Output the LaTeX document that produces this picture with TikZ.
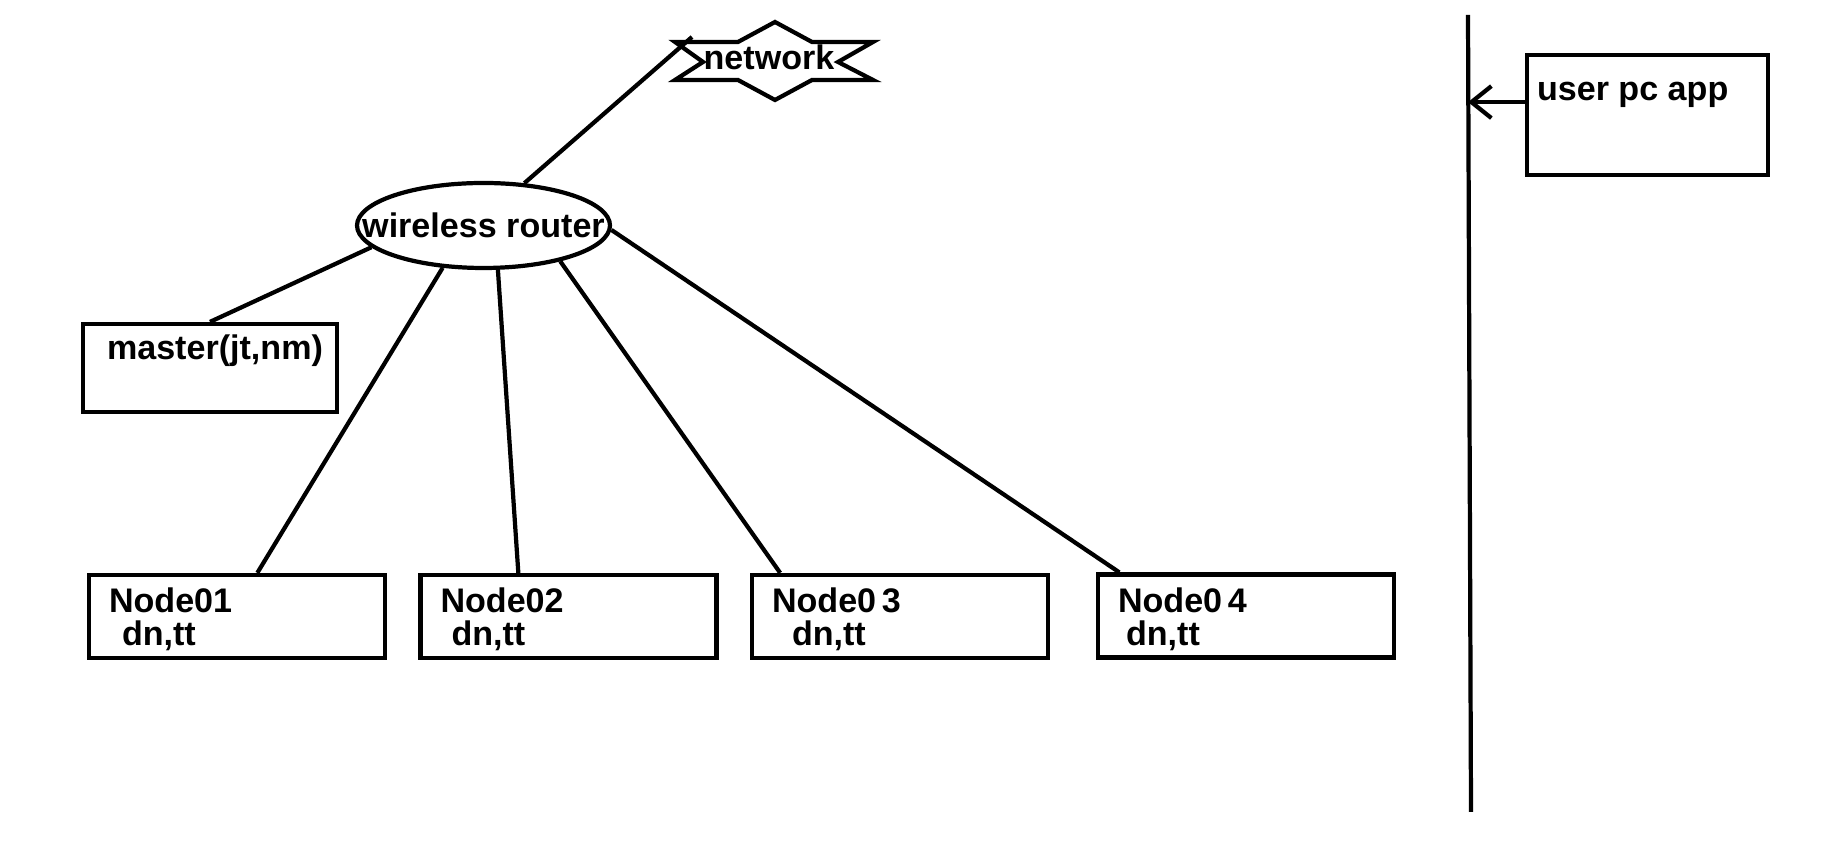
\documentclass[tikz,border=0pt]{standalone}
\usepackage{fontspec}
\setmainfont{Liberation Sans}
\usepackage{tikz}
\usetikzlibrary{shapes.geometric}
\usetikzlibrary{arrows.meta}

\begin{document}
\begin{tikzpicture}[
    line width=1.2pt,
    font=\fontsize{9.7}{9.4}\selectfont\bfseries,
    box/.style={draw, rectangle, minimum width=2.96cm, minimum height=0.83cm, inner sep=0pt},
    lbl/.style={inner sep=0pt, anchor=base west, align=left}]
    \useasboundingbox (0,0) rectangle (18.3,-8.5);

    % 绘制网络
    \draw (7.75,-0.22) -- (8.12,-0.42) -- (8.73,-0.42) -- (8.38,-0.62) -- (8.73,-0.80) -- (8.12,-0.80)
          -- (7.75,-1.00) -- (7.38,-0.80) -- (6.75,-0.80) -- (7.03,-0.62) -- (6.75,-0.42) -- (7.38,-0.42) -- cycle;
    \node[inner sep=0pt, anchor=base] (network) at (7.69,-0.70) {network};
    \coordinate (netcorner) at (6.92,-0.37);

    % 路由器与各节点
    \node[draw, ellipse, minimum width=2.53cm, minimum height=0.85cm, inner sep=0pt,
          label={[name=routerlbl]center:wireless router}] (router) at (4.835,-2.255) {};

    \node[box, minimum width=2.54cm, minimum height=0.88cm] (master) at (2.10,-3.68) {};
    \node[lbl] (masterlbl) at ([shift={(0.24,-0.38)}]master.north west) {master(jt,nm)};

    \node[box] (n1) at (2.37,-6.165) {};
    \node[box] (n2) at (5.685,-6.165) {};
    \node[box] (n3) at (9.00,-6.165) {};
    \node[box] (n4) at (12.46,-6.16) {};
    \node[lbl] (n1lbl) at ([shift={(0.20,-0.73)}]n1.north west) {Node01\\\hspace*{1.3mm}dn,tt};
    \node[lbl] (n2lbl) at ([shift={(0.20,-0.73)}]n2.north west) {Node02\\\hspace*{1.1mm}dn,tt};
    \node[lbl] (n3lbl) at ([shift={(0.20,-0.73)}]n3.north west) {Node0\,3\\\hspace*{2.0mm}dn,tt};
    \node[lbl] (n4lbl) at ([shift={(0.20,-0.73)}]n4.north west) {Node0\,4\\\hspace*{0.8mm}dn,tt};

    % 用户端
    \node[box, minimum width=2.41cm, minimum height=1.20cm] (app) at (16.475,-1.15) {};
    \node[lbl] (applbl) at ([shift={(0.10,-0.48)}]app.north west) {user pc app};

    \coordinate (bustop) at (14.68,-0.15);
    \coordinate (busbot) at (14.71,-8.12);
    \draw (bustop) -- (busbot);

    \draw (netcorner) -- (router.46);
    \draw (router.191) -- (master.north);
    \draw (router.226) -- (n1.65);
    \draw (router.288) -- (n2.139);
    \draw (router.335) -- (n3.160);
    \draw (router.358) -- (n4.161);
    \draw[-{Straight Barb[length=2mm,width=3.2mm]}] (app.174) -- (app.174 -| bustop);
\end{tikzpicture}
\end{document}
